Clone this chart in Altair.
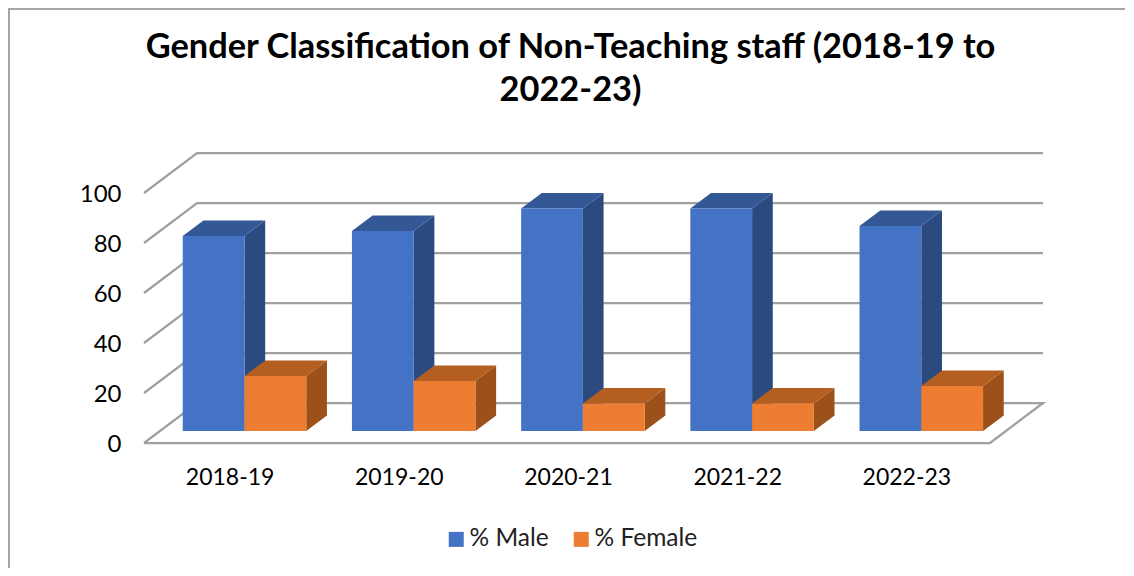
import json
import altair as alt
import pandas as pd

categories = ["2018-19", "2019-20", "2020-21", "2021-22", "2022-23"]
male = [78, 80, 89, 89, 82]
female = [22, 20, 11, 11, 18]
ticks = [0, 20, 40, 60, 80, 100]

FONT = "Lato"
SKEW_X = 53 / 169.2   # horizontal shift of the back wall, in category units
SKEW_Y = 16           # vertical shift of the back wall, in percent units
Z_FRONT = 0.30
Z_BACK = 0.69
BAR_W = 0.365


def px(x, z):
    return x + z * SKEW_X


def py(v, z):
    return v + z * SKEW_Y


# wall and floor lines
grid_rows = []
for t in ticks:
    pts = [(-0.5, t, 0), (-0.5, t, 1), (4.5, t, 1)]
    if t == 0:
        pts = pts + [(4.5, t, 0), (-0.5, t, 0)]
    for i, (x, v, z) in enumerate(pts):
        grid_rows.append({"g": t, "i": i, "x": px(x, z), "y": py(v, z)})
grid = pd.DataFrame(grid_rows)

side_rows, top_rows, front_rows = [], [], []
for c, (cat, vals) in enumerate(zip(categories, zip(male, female))):
    for s, (name, v) in enumerate(zip(["% Male", "% Female"], vals)):
        x0 = c - BAR_W + s * BAR_W
        x1 = x0 + BAR_W
        ident = f"{cat}{name}"
        base = {"id": ident, "series": name}
        front_rows.append({**base, "x": px(x0, Z_FRONT), "x2": px(x1, Z_FRONT),
                           "y": py(0, Z_FRONT), "y2": py(v, Z_FRONT)})
        side_rows.append({**base, "x": px(x1, Z_FRONT), "y": py(0, Z_FRONT), "y2": py(v, Z_FRONT)})
        side_rows.append({**base, "x": px(x1, Z_BACK), "y": py(0, Z_BACK), "y2": py(v, Z_BACK)})
        yf, yb = py(v, Z_FRONT), py(v, Z_BACK)
        top_rows.append({**base, "x": px(x0, Z_FRONT), "y": yf, "y2": yf})
        top_rows.append({**base, "x": px(x0, Z_BACK), "y": yf, "y2": yb})
        top_rows.append({**base, "x": px(x1, Z_FRONT), "y": yf, "y2": yb})
        top_rows.append({**base, "x": px(x1, Z_BACK), "y": yb, "y2": yb})
side = pd.DataFrame(side_rows)
top = pd.DataFrame(top_rows)
front = pd.DataFrame(front_rows)

x_scale = alt.Scale(domain=[-0.5, 4.5 + SKEW_X], nice=False, zero=False)
y_scale = alt.Scale(domain=[0, 100 + SKEW_Y], nice=False, zero=False)

label_expr = json.dumps(categories) + "[datum.value]"
x_axis = alt.Axis(values=list(range(len(categories))), labelExpr=label_expr,
                  domain=False, ticks=False, grid=False, labelFont=FONT,
                  labelFontSize=23, labelColor="#000000", labelPadding=23,
                  labelOffset=1, labelFlush=False, labelOverlap=False)
y_axis = alt.Axis(values=ticks, domain=False, ticks=False, grid=False, labelFont=FONT,
                  labelFontSize=24, labelColor="#000000", labelPadding=23, labelOffset=1.5)
x_enc = alt.X("x:Q", scale=x_scale, title=None, axis=x_axis)
y_enc = alt.Y("y:Q", scale=y_scale, title=None, axis=y_axis)

grid_layer = alt.Chart(grid).mark_line(color="#A0A0A0", strokeWidth=2.25, clip=False).encode(
    x=x_enc, y=y_enc, detail="g:N", order="i:Q",
)


def face(df, series, color):
    return alt.Chart(df[df.series == series]).mark_area(color=color, opacity=1).encode(
        x=x_enc, y=y_enc, y2="y2:Q", detail="id:N"
    )


front_layer = alt.Chart(front).mark_rect().encode(
    x=x_enc,
    x2="x2:Q",
    y=y_enc,
    y2="y2:Q",
    color=alt.Color(
        "series:N",
        scale=alt.Scale(domain=["% Male", "% Female"], range=["#4472C4", "#ED7D31"]),
        legend=alt.Legend(
            title=None, orient="none", direction="horizontal", legendX=300, legendY=374,
            symbolType="square", symbolSize=225, symbolStrokeWidth=0, labelFont=FONT,
            labelFontSize=24.5, labelColor="#222222", labelOffset=1, columnPadding=20, padding=0,
        ),
    ),
)

border_left = alt.Chart(grid).mark_rule(color="#A6A6A6", strokeWidth=1.5, clip=False).encode(
    x=alt.value(-135), y=alt.value(-145), y2=alt.value(415)
)
border_top = alt.Chart(grid).mark_rule(color="#A6A6A6", strokeWidth=1.5, clip=False).encode(
    x=alt.value(-136), x2=alt.value(981), y=alt.value(-144)
)

chart = alt.layer(
    border_left,
    border_top,
    grid_layer,
    face(side, "% Male", "#2A4A80"),
    face(top, "% Male", "#335895"),
    face(side, "% Female", "#9B5119"),
    face(top, "% Female", "#B45E22"),
    front_layer,
).properties(
    width=899,
    height=290,
    autosize=alt.AutoSizeParams(type="none"),
    padding={"left": 136, "top": 145, "right": 83, "bottom": 125},
    title=alt.TitleParams(
        text=["Gender Classification of Non-Teaching staff (2018-19 to", "2022-23)"],
        font=FONT, fontSize=34.4, fontWeight="bold", color="#000000", anchor="middle",
        frame="group", dx=-23, offset=-101, lineHeight=43,
    ),
    background="#FFFFFF",
).configure_view(stroke=None)

chart.save("out.html", embed_options={"renderer": "svg", "actions": False})
